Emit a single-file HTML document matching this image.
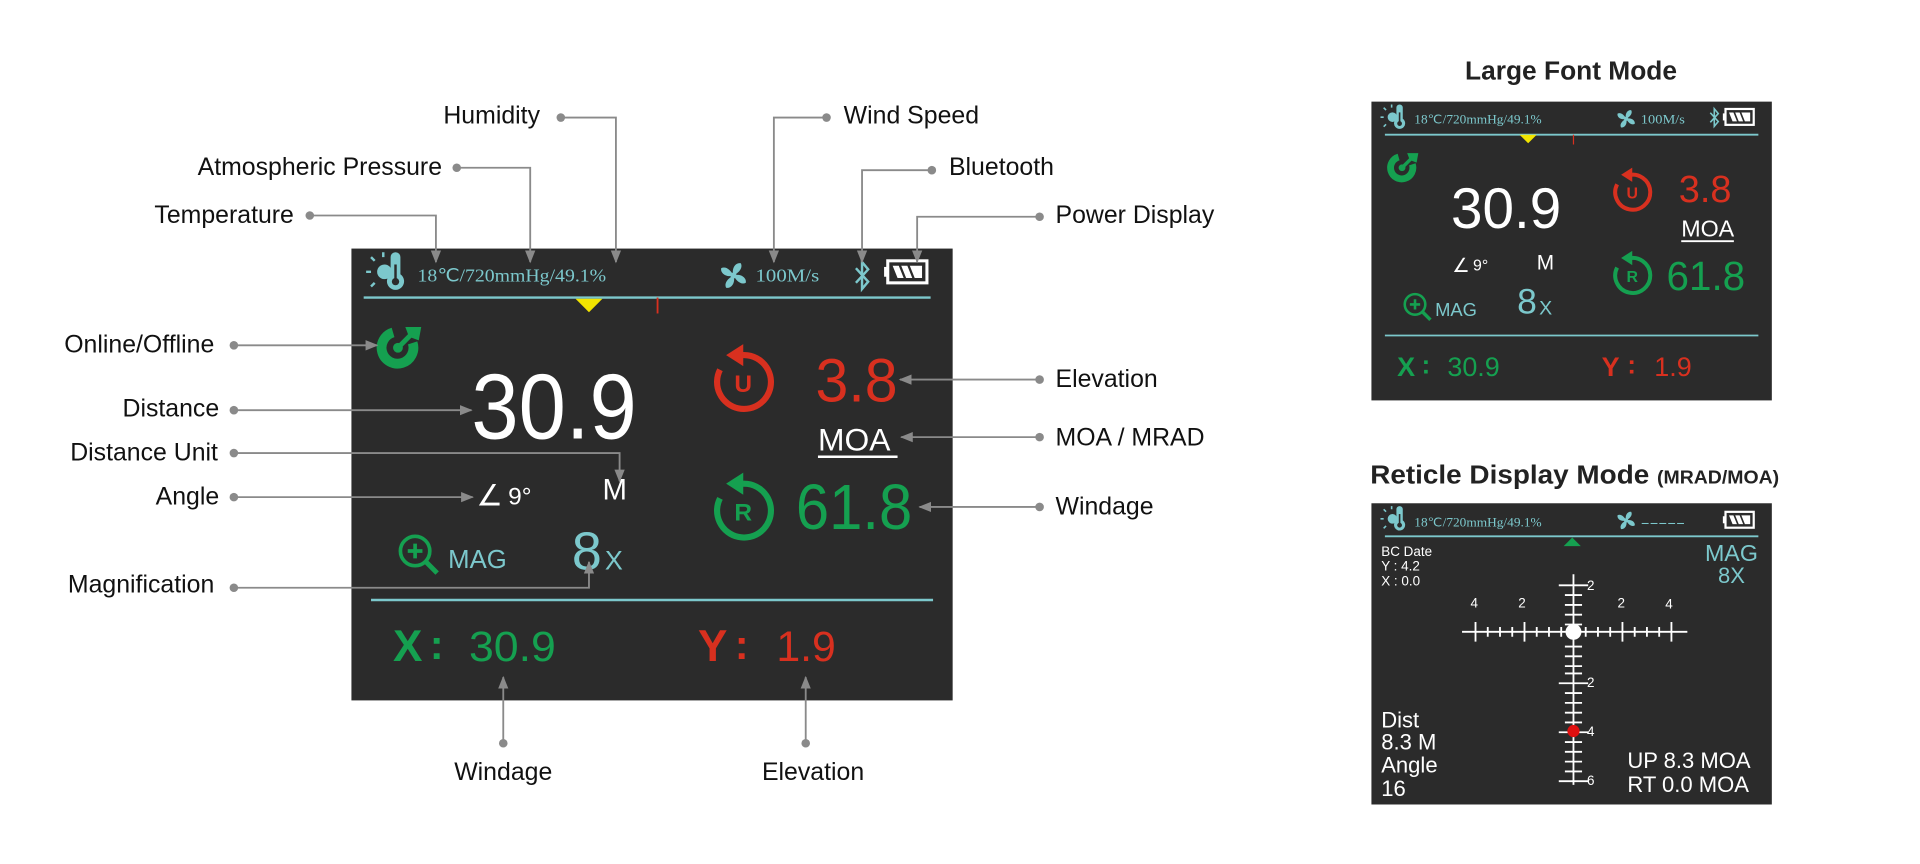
<!DOCTYPE html>
<html><head><meta charset="utf-8"><style>
html,body{margin:0;padding:0;background:#fff;}
svg{display:block;}
text{font-family:"Liberation Sans",sans-serif;}
.lbl{font-size:20.3px;fill:#111;}
.ser{font-family:"Liberation Serif",serif;}
</style></head><body>
<svg width="1920" height="864" viewBox="0 0 1568 705.6" xmlns="http://www.w3.org/2000/svg">
<defs>
<marker id="ar" viewBox="0 0 10 10" refX="9" refY="5" markerWidth="7" markerHeight="7" orient="auto"><path d="M0,1 L10,5 L0,9 z" fill="#8a8a8a"/></marker>
<g id="therm">
 <path d="M-4,-14 a4,4 0 0 1 8,0 v14 a7,7 0 1 1 -8,0 z" fill="#7cc8cc"/>
 <circle cx="0" cy="6" r="3" fill="#2b2b2b"/><rect x="-1" y="-8" width="2" height="12" fill="#2b2b2b"/>
 <circle cx="-9" cy="-2" r="6" fill="#7cc8cc"/>
 <path d="M-20,-2 h-4 M-17,-11 l-3,-3 M-17,7 l-3,3 M-10,-14 v-4" stroke="#7cc8cc" stroke-width="2"/>
</g>
<g id="fan" fill="#7cc8cc">
 <path d="M0,0 C-2,-6 2,-11 6,-10 C8,-6 4,-2 0,0z"/><path d="M0,0 C6,-2 11,2 10,6 C6,8 2,4 0,0z"/>
 <path d="M0,0 C2,6 -2,11 -6,10 C-8,6 -4,2 0,0z"/><path d="M0,0 C-6,2 -11,-2 -10,-6 C-6,-8 -2,-4 0,0z"/>
 <circle r="2.5"/>
</g>
<g id="bt" fill="none" stroke="#7cc8cc" stroke-width="2"><path d="M-5,-6 L5,5 L0,11 V-11 L5,-5 L-5,6"/></g>
<g id="bat"><rect x="3" y="0" width="32" height="18" fill="none" stroke="#fff" stroke-width="2.5"/><rect x="0" y="5" width="4" height="8" fill="#fff"/>
 <path d="M7,4 h5 l4,10 h-5z M14,4 h5 l4,10 h-5z M21,4 h10 v10 h-6z" fill="#fff"/></g>
<g id="online"><path d="M12,-4 A13,13 0 1 1 -4,-12.5" fill="none" stroke="#15a050" stroke-width="8"/><circle r="4" fill="#15a050"/>
 <path d="M0,0 L11,-11" stroke="#15a050" stroke-width="4"/><path d="M6,-17 L9,-9 L17,-6 L19,-17z" fill="#15a050"/></g>
<g id="mag"><circle cx="-2" cy="-2" r="12" fill="none" stroke="#15a050" stroke-width="3"/><path d="M7,7 L16,16" stroke="#15a050" stroke-width="4"/>
 <path d="M-8,-2 h12 M-2,-8 v12" stroke="#15a050" stroke-width="3"/></g>
</defs>

<!-- MAIN SCREEN -->
<rect x="287" y="203" width="491" height="369" fill="#2b2b2b"/>
<use href="#therm" x="323" y="224"/>
<text x="341" y="230" class="ser" font-size="15" fill="#7cc8cc" textLength="154" lengthAdjust="spacingAndGlyphs">18℃/720mmHg/49.1%</text>
<use href="#fan" x="599" y="225"/>
<text x="617" y="230" class="ser" font-size="15" fill="#7cc8cc" textLength="52" lengthAdjust="spacingAndGlyphs">100M/s</text>
<use href="#bt" x="704" y="225"/>
<use href="#bat" x="722" y="213"/>
<line x1="297" y1="243" x2="760" y2="243" stroke="#7cc8cc" stroke-width="2"/>
<path d="M470,244 h22 l-11,11z" fill="#f2e500"/>
<line x1="537" y1="243" x2="537" y2="256" stroke="#d8301f" stroke-width="1.5"/>
<use href="#online" x="325" y="284"/>
<text x="385" y="358" font-size="76" fill="#fff" textLength="135" lengthAdjust="spacingAndGlyphs">30.9</text>
<g transform="translate(607,312)"><path d="M-6,-21 A22,22 0 1 1 -19,-10" fill="none" stroke="#d8301f" stroke-width="5"/><path d="M-14,-22 L0,-31 L0,-13z" fill="#d8301f"/>
 <text x="0" y="8" font-size="20" font-weight="bold" fill="#d8301f" text-anchor="middle">U</text></g>
<text x="666" y="328" font-size="50" fill="#d8301f" textLength="67" lengthAdjust="spacingAndGlyphs">3.8</text>
<text x="668" y="368" font-size="26" fill="#fff">MOA</text>
<line x1="668" y1="373" x2="733" y2="373" stroke="#fff" stroke-width="2"/>
<g transform="translate(607,417)"><path d="M-6,-21 A22,22 0 1 1 -19,-10" fill="none" stroke="#15a050" stroke-width="5"/><path d="M-14,-22 L0,-31 L0,-13z" fill="#15a050"/>
 <text x="0" y="8" font-size="20" font-weight="bold" fill="#15a050" text-anchor="middle">R</text></g>
<text x="650" y="432" font-size="52" fill="#15a050" textLength="95" lengthAdjust="spacingAndGlyphs">61.8</text>
<text x="389" y="413" font-size="24" fill="#fff">∠</text><text x="415" y="412" font-size="20" fill="#fff">9°</text>
<text x="492" y="408" font-size="24" fill="#fff">M</text>
<use href="#mag" x="341" y="452"/>
<text x="366" y="464" font-size="21" fill="#7cc8cc">MAG</text>
<text x="467" y="465" font-size="44" fill="#7cc8cc">8</text>
<text x="494" y="465" font-size="22" fill="#7cc8cc">X</text>
<line x1="303" y1="490" x2="762" y2="490" stroke="#7cc8cc" stroke-width="2"/>
<text x="321" y="540" font-size="36" font-weight="bold" fill="#15a050">X</text>
<text x="351" y="538" font-size="34" font-weight="bold" fill="#15a050">:</text>
<text x="383" y="540" font-size="35" fill="#15a050" textLength="71" lengthAdjust="spacingAndGlyphs">30.9</text>
<text x="570" y="540" font-size="36" font-weight="bold" fill="#d8301f">Y</text>
<text x="600" y="538" font-size="34" font-weight="bold" fill="#d8301f">:</text>
<text x="634" y="540" font-size="35" fill="#d8301f">1.9</text>

<!-- CONNECTORS -->
<g fill="none" stroke="#8a8a8a" stroke-width="1.5" marker-end="url(#ar)">
<path d="M458,96 H503 V214"/>
<path d="M373,137 H433 V214"/>
<path d="M253,176 H356 V214"/>
<path d="M675,96 H632 V214"/>
<path d="M761,139 H704 V214"/>
<path d="M849,177 H749 V214"/>
<path d="M191,282 H308"/>
<path d="M191,335 H385"/>
<path d="M191,370 H506 V393"/>
<path d="M191,406 H386"/>
<path d="M191,480 H481 V459"/>
<path d="M849,310 H735"/>
<path d="M849,357 H736"/>
<path d="M849,414 H751"/>
<path d="M411,607 V553"/>
<path d="M658,607 V553"/>
</g>
<g fill="#8a8a8a">
<circle cx="458" cy="96" r="3.5"/><circle cx="373" cy="137" r="3.5"/><circle cx="253" cy="176" r="3.5"/>
<circle cx="675" cy="96" r="3.5"/><circle cx="761" cy="139" r="3.5"/><circle cx="849" cy="177" r="3.5"/>
<circle cx="191" cy="282" r="3.5"/><circle cx="191" cy="335" r="3.5"/><circle cx="191" cy="370" r="3.5"/>
<circle cx="191" cy="406" r="3.5"/><circle cx="191" cy="480" r="3.5"/>
<circle cx="849" cy="310" r="3.5"/><circle cx="849" cy="357" r="3.5"/><circle cx="849" cy="414" r="3.5"/>
<circle cx="411" cy="607" r="3.5"/><circle cx="658" cy="607" r="3.5"/>
</g>
<g>
<text class="lbl" x="441" y="101" text-anchor="end">Humidity</text>
<text class="lbl" x="361" y="143" text-anchor="end">Atmospheric Pressure</text>
<text class="lbl" x="240" y="182" text-anchor="end">Temperature</text>
<text class="lbl" x="689" y="101">Wind Speed</text>
<text class="lbl" x="775" y="143">Bluetooth</text>
<text class="lbl" x="862" y="182">Power Display</text>
<text class="lbl" x="175" y="288" text-anchor="end">Online/Offline</text>
<text class="lbl" x="179" y="340" text-anchor="end">Distance</text>
<text class="lbl" x="178" y="376" text-anchor="end">Distance Unit</text>
<text class="lbl" x="179" y="412" text-anchor="end">Angle</text>
<text class="lbl" x="175" y="484" text-anchor="end">Magnification</text>
<text class="lbl" x="862" y="316">Elevation</text>
<text class="lbl" x="862" y="364">MOA / MRAD</text>
<text class="lbl" x="862" y="420">Windage</text>
<text class="lbl" x="411" y="637" text-anchor="middle">Windage</text>
<text class="lbl" x="664" y="637" text-anchor="middle">Elevation</text>
</g>

<!-- LARGE FONT MODE -->
<text x="1283" y="65" font-size="21.5" font-weight="bold" fill="#222" text-anchor="middle">Large Font Mode</text>
<rect x="1120" y="83" width="327" height="244" fill="#2b2b2b"/>
<use href="#therm" transform="translate(1143,97) scale(0.65)"/>
<text x="1155" y="101" class="ser" font-size="10" fill="#7cc8cc" textLength="104" lengthAdjust="spacingAndGlyphs">18℃/720mmHg/49.1%</text>
<use href="#fan" transform="translate(1328,97) scale(0.7)"/>
<text x="1340" y="101" class="ser" font-size="10" fill="#7cc8cc" textLength="36" lengthAdjust="spacingAndGlyphs">100M/s</text>
<use href="#bt" transform="translate(1400,96) scale(0.65)"/>
<use href="#bat" transform="translate(1407,89) scale(0.72)"/>
<line x1="1131" y1="110" x2="1436" y2="110" stroke="#7cc8cc" stroke-width="1.5"/>
<path d="M1241,110 h14 l-7,7z" fill="#f2e500"/>
<line x1="1285" y1="110" x2="1285" y2="118" stroke="#d8301f" stroke-width="1"/>
<use href="#online" transform="translate(1145,137) scale(0.7)"/>
<text x="1185" y="186" font-size="47" fill="#fff" textLength="90" lengthAdjust="spacingAndGlyphs">30.9</text>
<g transform="translate(1333,157) scale(0.65)"><path d="M-6,-21 A22,22 0 1 1 -19,-10" fill="none" stroke="#d8301f" stroke-width="5"/><path d="M-14,-22 L0,-31 L0,-13z" fill="#d8301f"/>
 <text x="0" y="8" font-size="20" font-weight="bold" fill="#d8301f" text-anchor="middle">U</text></g>
<text x="1371" y="165" font-size="31" fill="#d8301f">3.8</text>
<text x="1373" y="193" font-size="19" fill="#fff">MOA</text>
<line x1="1373" y1="197" x2="1416" y2="197" stroke="#fff" stroke-width="1.5"/>
<g transform="translate(1333,225) scale(0.65)"><path d="M-6,-21 A22,22 0 1 1 -19,-10" fill="none" stroke="#15a050" stroke-width="5"/><path d="M-14,-22 L0,-31 L0,-13z" fill="#15a050"/>
 <text x="0" y="8" font-size="20" font-weight="bold" fill="#15a050" text-anchor="middle">R</text></g>
<text x="1361" y="237" font-size="33" fill="#15a050">61.8</text>
<text x="1186" y="222" font-size="16" fill="#fff">∠</text><text x="1203" y="221" font-size="13" fill="#fff">9°</text>
<text x="1255" y="220" font-size="17" fill="#fff">M</text>
<use href="#mag" transform="translate(1157,250) scale(0.7)"/>
<text x="1172" y="258" font-size="15" fill="#7cc8cc">MAG</text>
<text x="1239" y="256" font-size="29" fill="#7cc8cc">8</text>
<text x="1257" y="257" font-size="16" fill="#7cc8cc">X</text>
<line x1="1131" y1="274" x2="1436" y2="274" stroke="#7cc8cc" stroke-width="1.5"/>
<text x="1141" y="307" font-size="22" font-weight="bold" fill="#15a050">X</text>
<text x="1161" y="305" font-size="21" font-weight="bold" fill="#15a050">:</text>
<text x="1182" y="307" font-size="22" fill="#15a050">30.9</text>
<text x="1308" y="307" font-size="22" font-weight="bold" fill="#d8301f">Y</text>
<text x="1329" y="305" font-size="21" font-weight="bold" fill="#d8301f">:</text>
<text x="1351" y="307" font-size="22" fill="#d8301f">1.9</text>

<!-- RETICLE MODE -->
<text x="1119" y="395" font-size="21.5" font-weight="bold" fill="#222" textLength="334" lengthAdjust="spacingAndGlyphs">Reticle Display Mode <tspan font-size="15">(MRAD/MOA)</tspan></text>
<rect x="1120" y="411" width="327" height="246" fill="#2b2b2b"/>
<use href="#therm" transform="translate(1143,425) scale(0.65)"/>
<text x="1155" y="430" class="ser" font-size="10" fill="#7cc8cc" textLength="104" lengthAdjust="spacingAndGlyphs">18℃/720mmHg/49.1%</text>
<use href="#fan" transform="translate(1328,425) scale(0.7)"/>
<text x="1340" y="430" class="ser" font-size="11" fill="#7cc8cc" textLength="36" lengthAdjust="spacingAndGlyphs">-----</text>
<use href="#bat" transform="translate(1407,418) scale(0.72)"/>
<line x1="1131" y1="438" x2="1436" y2="438" stroke="#7cc8cc" stroke-width="1.5"/>
<path d="M1277,446 h14 l-7,-7z" fill="#15a050"/>
<text x="1128" y="454" font-size="11" fill="#fff">BC Date</text>
<text x="1128" y="466" font-size="11" fill="#fff">Y : 4.2</text>
<text x="1128" y="478" font-size="11" fill="#fff">X : 0.0</text>
<text x="1414" y="458" font-size="19" fill="#7cc8cc" text-anchor="middle">MAG</text>
<text x="1414" y="476" font-size="18" fill="#7cc8cc" text-anchor="middle">8X</text>
<g stroke="#fff" stroke-width="1.5">
<line x1="1194" y1="516" x2="1378" y2="516"/>
<line x1="1285" y1="469" x2="1285" y2="641"/>
<path d="M1205,508 v16 M1245,508 v16 M1325,508 v16 M1365,508 v16
 M1215,512 v8 M1225,512 v8 M1235,512 v8 M1255,512 v8 M1265,512 v8 M1275,512 v8
 M1295,512 v8 M1305,512 v8 M1315,512 v8 M1335,512 v8 M1345,512 v8 M1355,512 v8"/>
<path d="M1273,478 h24 M1273,558 h24 M1273,598 h24 M1273,638 h24
 M1278,486 h14 M1278,494 h14 M1278,502 h14 M1278,510 h14
 M1278,528 h14 M1278,536 h14 M1278,544 h14 M1278,550 h14
 M1278,566 h14 M1278,574 h14 M1278,582 h14 M1278,590 h14
 M1278,606 h14 M1278,614 h14 M1278,622 h14 M1278,630 h14"/>
</g>
<circle cx="1285" cy="516" r="6.5" fill="#fff"/>
<circle cx="1285" cy="597" r="5" fill="#e01010"/>
<g font-size="11" fill="#fff">
<text x="1204" y="496" text-anchor="middle">4</text><text x="1243" y="496" text-anchor="middle">2</text>
<text x="1324" y="496" text-anchor="middle">2</text><text x="1363" y="497" text-anchor="middle">4</text>
<text x="1296" y="482">2</text><text x="1296" y="561">2</text><text x="1296" y="601">4</text><text x="1296" y="641">6</text>
</g>
<g font-size="18" fill="#fff">
<text x="1128" y="594">Dist</text><text x="1128" y="612">8.3 M</text>
<text x="1128" y="631">Angle</text><text x="1128" y="650">16</text>
<text x="1329" y="627">UP 8.3 MOA</text><text x="1329" y="647">RT  0.0 MOA</text>
</g>
</svg>
</body></html>
